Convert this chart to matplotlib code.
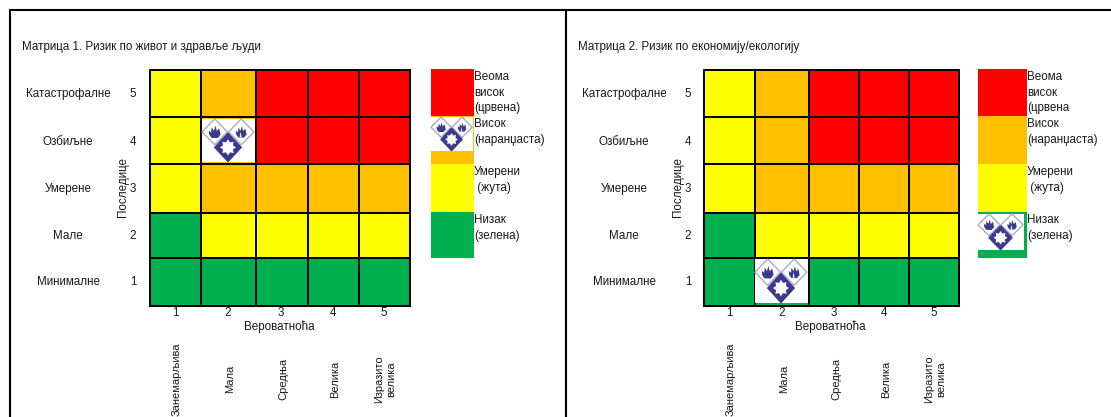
import numpy as np
import matplotlib
matplotlib.use('Agg')
import matplotlib.pyplot as plt
from matplotlib.colors import ListedColormap
from matplotlib.patches import Polygon, Rectangle

plt.rcParams['font.family'] = ['Liberation Sans', 'DejaVu Sans']

# Podaci ---------------------------------------------------
posledice = ['Катастрофалне', 'Озбиљне', 'Умерене', 'Мале', 'Минималне']
ocene_y = ['5', '4', '3', '2', '1']
ocene_x = ['1', '2', '3', '4', '5']
verovatnoca = ['Занемарљива', 'Мала', 'Средња', 'Велика', 'Изразито\nвелика']
naslov_1 = 'Матрица 1. Ризик по живот и здравље људи'
naslov_2 = 'Матрица 2. Ризик по економију/екологију'
# 0 zelena, 1 zuta, 2 narandzasta, 3 crvena
matrica_1 = [[1, 2, 3, 3, 3],
             [1, 2, 3, 3, 3],
             [1, 2, 2, 2, 2],
             [0, 1, 1, 1, 1],
             [0, 0, 0, 0, 0]]
matrica_2 = [[1, 2, 3, 3, 3],
             [1, 2, 3, 3, 3],
             [1, 2, 2, 2, 2],
             [0, 1, 1, 1, 1],
             [0, 0, 0, 0, 0]]
legenda_nivoi = [[3], [2], [1], [0]]
legenda_1 = ['Веома\nвисок\n(црвена)', 'Висок\n(наранџаста)', 'Умерени\n (жута)', 'Низак\n(зелена)']
legenda_2 = ['Веома\nвисок\n(црвена', 'Висок\n(наранџаста)', 'Умерени\n (жута)', 'Низак\n(зелена)']

boje = ListedColormap(['#00b050', '#ffff00', '#ffc000', '#ff0000'])
TEKST = '#1a1a1a'
PLAVA = '#3b3a8f'
SIVA = '#a9adc4'
FS = 8.35

fig = plt.figure(figsize=(11.11, 4.17), dpi=100)
ax = fig.add_axes([0, 0, 1, 1])
ax.set_xlim(0, 1111)
ax.set_ylim(417, 0)
ax.axis('off')

y_ivice = np.array([70, 117, 164, 213, 258, 306])


# crta znak (tri romba) unutar pravougaonika
def znak(x, y, w, h):
    ax.add_patch(Rectangle((x, y), w, h, fc='white', ec='none', zorder=3))

    def romb(cx, cy, rx, ry, fc, ec):
        pts = [(cx, cy - ry), (cx + rx, cy), (cx, cy + ry), (cx - rx, cy)]
        ax.add_patch(Polygon([(x + a * w, y + b * h) for a, b in pts], fc=fc, ec=ec, lw=1, zorder=4))

    def plamen(cx, cy, s, rez):
        oblik = [(-.8, .35), (-.85, -.25), (-.5, .0), (-.45, -.75), (-.1, -.25), (.1, -1.0),
                 (.3, -.2), (.65, -.6), (.85, .35), (.45, .85), (-.45, .85)]
        pts = [(x + (cx + a * s) * w, y + (cy + b * s * 1.2) * h) for a, b in oblik]
        ax.add_patch(Polygon(pts, fc=PLAVA, ec='none', zorder=5))
        if rez:
            pts = [(x + (cx + a * s) * w, y + (cy + b * s * 1.2) * h)
                   for a, b in [(-.25, .8), (-.1, -.1), (.05, .8)]]
            ax.add_patch(Polygon(pts, fc='white', ec='none', zorder=6))

    romb(.24, .30, .24, .30, 'white', SIVA)
    romb(.74, .30, .24, .30, 'white', SIVA)
    romb(.49, .66, .25, .33, PLAVA, PLAVA)
    plamen(.24, .31, .13, False)
    plamen(.74, .31, .12, True)
    ugl = np.linspace(0, 2 * np.pi, 16, endpoint=False)
    rad = np.where(np.arange(16) % 2 == 0, .15, .10)
    zvezda = np.column_stack([x + (.49 + rad * np.cos(ugl)) * w, y + (.66 + rad * 1.25 * np.sin(ugl)) * h])
    ax.add_patch(Polygon(zvezda, fc='white', ec='none', zorder=5))


# crta jednu matricu sa oznakama i legendom
def panel(x_ivice, nivoi, naslov, x_nasl, x_kat, x_oc, x_pos, leg_x, leg_txt, leg_tekst, y_xoc, y_nat, x_kol):
    ax.text(x_nasl, 47, naslov, fontsize=FS, color=TEKST, va='center', ha='left')
    ax.pcolormesh(x_ivice, y_ivice, np.array(nivoi), cmap=boje, vmin=0, vmax=3,
                  edgecolors='black', linewidth=1.3, zorder=2)
    ax.add_patch(Rectangle((x_ivice[0], y_ivice[0]), x_ivice[-1] - x_ivice[0], y_ivice[-1] - y_ivice[0],
                           fc='none', ec='black', lw=1.3, zorder=6))
    sredine_y = [94, 142, 189, 236, 282]
    for i in range(5):
        ax.text(x_kat, sredine_y[i], posledice[i], fontsize=FS, color=TEKST, ha='center', va='center')
        ax.text(x_oc, sredine_y[i], ocene_y[i], fontsize=FS, color=TEKST, ha='center', va='center')
        ax.text(x_kol[i], y_xoc, ocene_x[i], fontsize=FS, color=TEKST, ha='center', va='center')
        ax.text(x_kol[i] + (1 if i == 4 else 2), y_nat, verovatnoca[i], fontsize=8, color=TEKST, rotation=90,
                ha='center', va='center', linespacing=1.3, multialignment='center')
    ax.text(x_pos, 187, 'Последице', fontsize=FS, color=TEKST, rotation=90, ha='center', va='center')
    ax.text((x_ivice[0] + x_ivice[-1]) / 2 - 1, 327, 'Вероватноћа', fontsize=FS, color=TEKST, ha='center', va='center')
    leg_y = np.array([69, 116, 164, 212, 258])
    ax.pcolormesh(leg_x, leg_y, np.array(legenda_nivoi), cmap=boje, vmin=0, vmax=3, zorder=2)
    for i in range(4):
        ax.text(leg_txt, leg_y[i] + 2, leg_tekst[i], fontsize=FS, color=TEKST, ha='left', va='top', linespacing=1.4)


x_1 = np.array([150, 201, 256, 308, 359, 410])
x_2 = np.array([704, 755, 809, 859, 909, 959])
panel(x_1, matrica_1, naslov_1, 22, 68, 133, 123, [431, 474], 474, legenda_1, 313, 379,
      [175, 228, 281, 333, 384])
panel(x_2, matrica_2, naslov_2, 578, 624, 688, 678, [978, 1027], 1027, legenda_2, 313, 379,
      [729, 782, 834, 884, 934])

# znakovi
znak(202, 119, 53, 43)
znak(431, 117, 42, 34)
znak(755, 259, 53, 44)
znak(978, 214, 46, 36)

# okvir stranice
ax.plot([10, 1111], [10, 10], color='black', lw=1.5, zorder=7)
ax.plot([10, 10], [10, 417], color='black', lw=1.5, zorder=7)
ax.plot([566, 566], [10, 417], color='black', lw=1.5, zorder=7)

fig.savefig('out.png', dpi=100)
